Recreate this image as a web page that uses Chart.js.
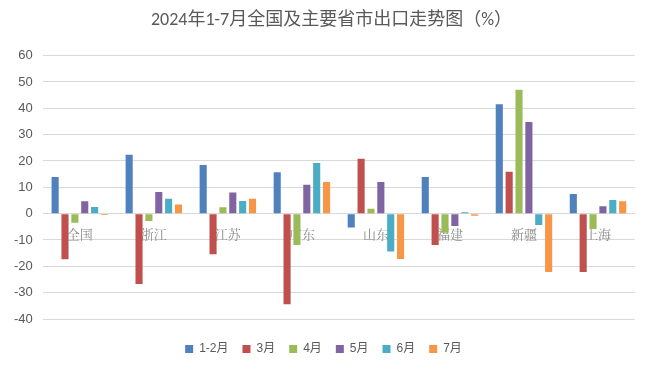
<!DOCTYPE html>
<html>
<head>
<meta charset="utf-8">
<script src="https://cdn.jsdelivr.net/npm/chart.js@4.4.1/dist/chart.umd.min.js"></script>
<style>
  html, body { margin: 0; padding: 0; background: #fff; }
  #wrap { width: 646px; height: 365px; }
</style>
</head>
<body>
<div id="wrap"><canvas id="canvas" width="646" height="365"></canvas></div>
<script>
// regions
const regions = ['全国', '浙江', '江苏', '广东', '山东', '福建', '新疆', '上海']
// export growth (%) by month
const m12 = [13.9, 22.4, 18.5, 15.7, -5.3, 13.9, 41.5, 7.5]
const m3 = [-17.3, -26.7, -15.4, -34.4, 20.8, -11.9, 15.9, -22.2]
const m4 = [-3.5, -2.8, 2.4, -11.9, 1.9, -7.3, 47.0, -5.8]
const m5 = [4.7, 8.2, 8.0, 11.0, 12.0, -4.7, 34.8, 2.8]
const m6 = [2.5, 5.7, 4.8, 19.2, -14.4, 0.5, -4.3, 5.2]
const m7 = [-0.5, 3.5, 5.7, 12.0, -17.2, -0.8, -22.2, 4.7]
const seriesNames = ['1-2月', '3月', '4月', '5月', '6月', '7月']
const colors = ['#4F81BD', '#C0504D', '#9BBB59', '#8064A2', '#4BACC6', '#F79646']

const values = [m12, m3, m4, m5, m6, m7]
const datasets = seriesNames.map((name, i) => ({
    label: name,
    data: values[i],
    backgroundColor: colors[i],
    barPercentage: 0.72,
    categoryPercentage: 0.8
}))

// nudge title and legend like the Excel original
const nudge = {
    id: 'nudge',
    afterLayout(chart) {
        const t = chart.titleBlock
        if (t) { t.left += 12; t.right += 12 }
        const l = chart.legend
        if (l) { l.top += 10; l.bottom += 10; l.left += 4; l.right += 4 }
    }
}

const ctx = document.getElementById('canvas')
new Chart(ctx, {
    type: 'bar',
    data: { labels: regions, datasets },
    plugins: [nudge],
    options: {
        responsive: false,
        animation: false,
        layout: { padding: { left: 4, right: 11, top: 0, bottom: 10 } },
        plugins: {
            title: {
                display: true,
                text: '2024年1-7月全国及主要省市出口走势图（%）',
                color: '#595959',
                font: { family: 'Calibri, Carlito, "Noto Sans CJK SC"', size: 18, weight: 'normal' },
                padding: { top: 10, bottom: 24 }
            },
            legend: {
                position: 'bottom',
                labels: {
                    boxWidth: 8,
                    boxHeight: 8,
                    color: '#595959',
                    padding: 14,
                    font: { family: '"Liberation Sans", "Noto Sans CJK SC"', size: 12 }
                }
            },
            tooltip: { enabled: false }
        },
        scales: {
            x: {
                position: { y: 0 },
                grid: { display: false },
                border: { display: false },
                ticks: {
                    color: '#8c8c8c',
                    padding: 5,
                    font: { family: '"Noto Serif CJK SC", "Noto Sans CJK SC"', size: 13 }
                }
            },
            y: {
                min: -40,
                max: 60,
                ticks: {
                    stepSize: 10,
                    color: '#595959',
                    padding: 10,
                    font: { family: '"Liberation Sans"', size: 13 }
                },
                grid: { color: '#D9D9D9', drawTicks: false },
                border: { display: false }
            }
        }
    }
})
</script>
</body>
</html>
